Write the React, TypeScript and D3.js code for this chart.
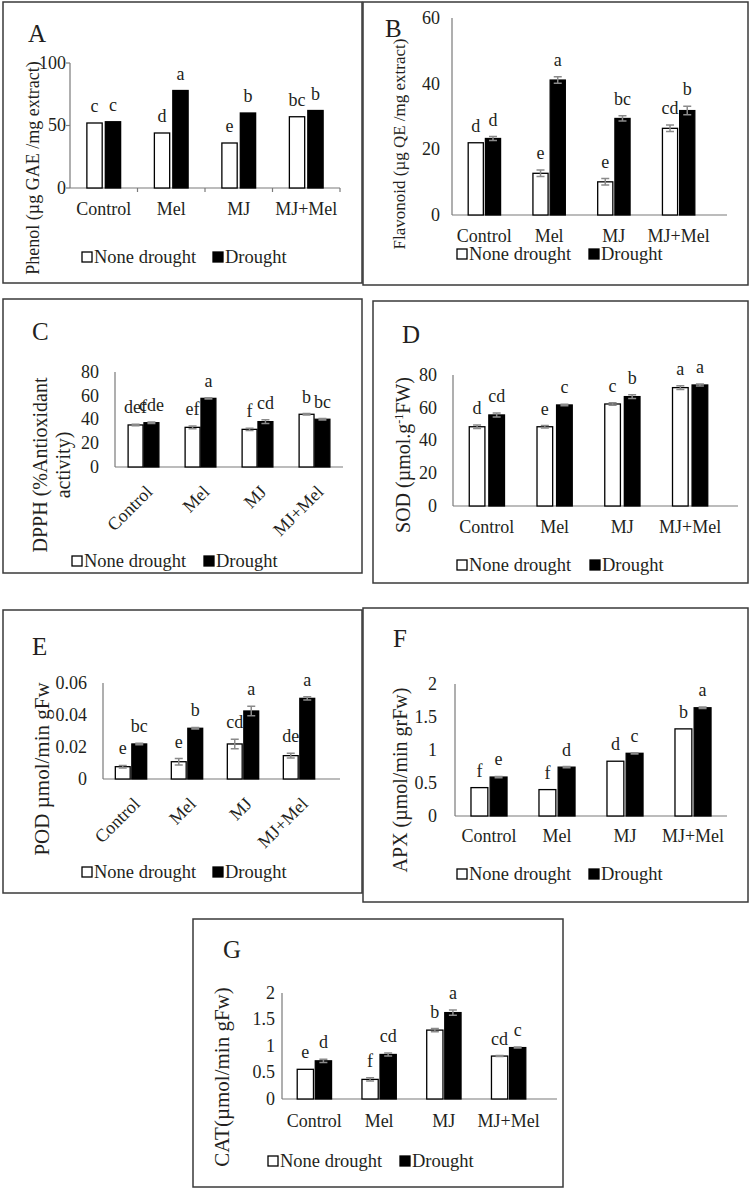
import React from 'react';
import * as d3 from 'd3';

const categories = ['Control', 'Mel', 'MJ', 'MJ+Mel'];

// A: total phenol
const phenolNone = [52, 44, 36, 57];
const phenolDrought = [53, 78, 60, 62];
const phenolLetNone = ['c', 'd', 'e', 'bc'];
const phenolLetDrought = ['c', 'a', 'b', 'b'];
const phenolTicks = [0, 50, 100];

// B: flavonoid
const flavNone = [22.0, 12.7, 10.1, 26.4];
const flavDrought = [23.3, 41.1, 29.4, 31.8];
const flavErrNone = [0, 1.0, 1.0, 1.0];
const flavErrDrought = [0.6, 1.0, 0.8, 1.3];
const flavLetNone = ['d', 'e', 'e', 'cd'];
const flavLetDrought = ['d', 'a', 'bc', 'b'];
const flavTicks = [0, 20, 40, 60];

// C: DPPH
const dpphNone = [35.4, 33.4, 31.7, 44.4];
const dpphDrought = [37.3, 57.8, 38.2, 40.2];
const dpphErrNone = [0.6, 1.2, 1.0, 0.6];
const dpphErrDrought = [0.6, 0.6, 1.5, 0.6];
const dpphLetNone = ['def', 'ef', 'f', 'b'];
const dpphLetDrought = ['cde', 'a', 'cd', 'bc'];
const dpphTicks = [0, 20, 40, 60, 80];

// D: SOD
const sodNone = [48.4, 48.4, 62.3, 72.3];
const sodDrought = [55.6, 61.7, 66.8, 73.9];
const sodErrNone = [1.0, 0.7, 0.8, 1.2];
const sodErrDrought = [1.2, 0.5, 1.2, 0.6];
const sodLetNone = ['d', 'e', 'c', 'a'];
const sodLetDrought = ['cd', 'c', 'b', 'a'];
const sodTicks = [0, 20, 40, 60, 80];

// E: POD
const podNone = [0.0077, 0.0108, 0.0219, 0.0146];
const podDrought = [0.0219, 0.0317, 0.0425, 0.0504];
const podErrNone = [0.0008, 0.002, 0.003, 0.0015];
const podErrDrought = [0.0005, 0.0005, 0.003, 0.001];
const podLetNone = ['e', 'e', 'cd', 'de'];
const podLetDrought = ['bc', 'b', 'a', 'a'];
const podTicks = [0, 0.02, 0.04, 0.06];

// F: APX
const apxNone = [0.43, 0.4, 0.83, 1.32];
const apxDrought = [0.59, 0.74, 0.95, 1.64];
const apxErrNone = [0, 0, 0, 0];
const apxErrDrought = [0.01, 0.01, 0.01, 0.01];
const apxLetNone = ['f', 'f', 'd', 'b'];
const apxLetDrought = ['e', 'd', 'c', 'a'];
const apxTicks = [0, 0.5, 1, 1.5, 2];

// G: CAT
const catNone = [0.56, 0.37, 1.3, 0.81];
const catDrought = [0.72, 0.84, 1.63, 0.97];
const catErrNone = [0, 0.03, 0.03, 0.01];
const catErrDrought = [0.03, 0.03, 0.05, 0.01];
const catLetNone = ['e', 'f', 'b', 'cd'];
const catLetDrought = ['d', 'cd', 'a', 'c'];
const catTicks = [0, 0.5, 1, 1.5, 2];

const FONT = '"Liberation Serif", "Times New Roman", serif';
const INK = '#231f20';
const AXIS = '#7a7a7a';
const ERR = '#8a8a8a';

type Seg = { t: string; sup?: boolean };
type LabelLine = { x: number; parts: Seg[] };

// legend: [white square x, black square x, baseline]
const panels = [
  {
    id: 'A', frame: [3, 2, 362, 283], tag: [28, 42],
    x0: 70, x1: 340, axisEnd: 340, yTop: 63, yBase: 188, yMax: 100, pad: 0.5, gap: 0.17,
    ticks: phenolTicks, tickRight: 66, tickMarks: true,
    none: phenolNone, drought: phenolDrought, errNone: null, errDrought: null,
    letNone: phenolLetNone, letDrought: phenolLetDrought,
    catY: 215, rotate: false,
    yLabel: [{ x: 33, parts: [{ t: 'Phenol (µg GAE /mg extract)' }] }] as LabelLine[],
    yLabelCy: 168, yLabelSize: 18,
    legend: [82, 213, 263],
  },
  {
    id: 'B', frame: [363, 2, 748, 285], tag: [385, 37],
    x0: 452, x1: 711, axisEnd: 727, yTop: 18, yBase: 215, yMax: 60, pad: 0.5, gap: 0.12,
    ticks: flavTicks, tickRight: 440, tickMarks: false,
    none: flavNone, drought: flavDrought, errNone: flavErrNone, errDrought: flavErrDrought,
    letNone: flavLetNone, letDrought: flavLetDrought,
    catY: 242, rotate: false,
    yLabel: [{ x: 399, parts: [{ t: 'Flavonoid (µg QE /mg extract)' }] }] as LabelLine[],
    yLabelCy: 144, yLabelSize: 17,
    legend: [457, 589, 260],
  },
  {
    id: 'C', frame: [3, 299, 362, 573], tag: [32, 340],
    x0: 115, x1: 343, axisEnd: 343, yTop: 372, yBase: 467, yMax: 80, pad: 0.46, gap: 0.06,
    ticks: dpphTicks, tickRight: 99, tickMarks: false,
    none: dpphNone, drought: dpphDrought, errNone: dpphErrNone, errDrought: dpphErrDrought,
    letNone: dpphLetNone, letDrought: dpphLetDrought,
    catY: 467, rotate: true,
    yLabel: [
      { x: 40, parts: [{ t: 'DPPH (%Antioxidant' }] },
      { x: 63, parts: [{ t: 'activity)' }] },
    ] as LabelLine[],
    yLabelCy: 465, yLabelSize: 20,
    legend: [72, 204, 567],
  },
  {
    id: 'D', frame: [373, 301, 748, 583], tag: [402, 343],
    x0: 453, x1: 724, axisEnd: 738, yTop: 375, yBase: 506, yMax: 80, pad: 0.48, gap: 0.2,
    ticks: sodTicks, tickRight: 437, tickMarks: false,
    none: sodNone, drought: sodDrought, errNone: sodErrNone, errDrought: sodErrDrought,
    letNone: sodLetNone, letDrought: sodLetDrought,
    catY: 533, rotate: false,
    yLabel: [{ x: 403, parts: [{ t: 'SOD (µmol.g' }, { t: '-1', sup: true }, { t: 'FW)' }] }] as LabelLine[],
    yLabelCy: 455, yLabelSize: 20,
    legend: [457, 590, 571],
  },
  {
    id: 'E', frame: [3, 610, 362, 893], tag: [32, 655],
    x0: 103, x1: 327, axisEnd: 340, yTop: 683, yBase: 779, yMax: 0.06, pad: 0.44, gap: 0.1,
    ticks: podTicks, tickRight: 87, tickMarks: false,
    none: podNone, drought: podDrought, errNone: podErrNone, errDrought: podErrDrought,
    letNone: podLetNone, letDrought: podLetDrought,
    catY: 779, rotate: true,
    yLabel: [{ x: 42, parts: [{ t: 'POD µmol/min gFw' }] }] as LabelLine[],
    yLabelCy: 769, yLabelSize: 21,
    legend: [82, 213, 878],
  },
  {
    id: 'F', frame: [363, 608, 748, 902], tag: [393, 647],
    x0: 455, x1: 727, axisEnd: 727, yTop: 684, yBase: 816, yMax: 2, pad: 0.47, gap: 0.12,
    ticks: apxTicks, tickRight: 437, tickMarks: false,
    none: apxNone, drought: apxDrought, errNone: apxErrNone, errDrought: apxErrDrought,
    letNone: apxLetNone, letDrought: apxLetDrought,
    catY: 842, rotate: false,
    yLabel: [{ x: 400, parts: [{ t: 'APX (µmol/min grFw)' }] }] as LabelLine[],
    yLabelCy: 780, yLabelSize: 20,
    legend: [457, 589, 880],
  },
  {
    id: 'G', frame: [193, 919, 563, 1187], tag: [223, 958],
    x0: 282, x1: 541, axisEnd: 557, yTop: 993, yBase: 1099, yMax: 2, pad: 0.47, gap: 0.1,
    ticks: catTicks, tickRight: 275, tickMarks: false,
    none: catNone, drought: catDrought, errNone: catErrNone, errDrought: catErrDrought,
    letNone: catLetNone, letDrought: catLetDrought,
    catY: 1127, rotate: false,
    yLabel: [{ x: 222, parts: [{ t: 'CAT(µmol/min gFw)' }] }] as LabelLine[],
    yLabelCy: 1077, yLabelSize: 21,
    legend: [268, 400, 1167],
  },
];

type PanelCfg = (typeof panels)[number];

function fmtTick(v: number) {
  return String(+v.toFixed(3));
}

function Panel({ p }: { p: PanelCfg }) {
  const x = d3.scaleBand<string>()
    .domain(categories)
    .range([p.x0, p.x1])
    .paddingInner(p.pad)
    .paddingOuter(p.pad / 2);
  const sub = d3.scaleBand<number>()
    .domain([0, 1])
    .range([0, x.bandwidth()])
    .paddingInner(p.gap);
  const y = d3.scaleLinear().domain([0, p.yMax]).range([p.yBase, p.yTop]);

  const series = [
    { vals: p.none, errs: p.errNone, lets: p.letNone, fill: '#ffffff' },
    { vals: p.drought, errs: p.errDrought, lets: p.letDrought, fill: '#000000' },
  ];

  const [fx0, fy0, fx1, fy1] = p.frame;
  const [sq1, sq2, ly] = p.legend;
  const halfGap = (x.step() - x.bandwidth()) / 2;

  return (
    <g>
      <rect x={fx0} y={fy0} width={fx1 - fx0} height={fy1 - fy0} fill="none" stroke="#3a3a3a" strokeWidth={1.5} />
      <text x={p.tag[0]} y={p.tag[1]} fontSize={25} fill={INK}>{p.id}</text>

      {/* value axis */}
      <line x1={p.x0} x2={p.x0} y1={y(0)} y2={y(p.yMax)} stroke={AXIS} strokeWidth={1.2} />
      {p.ticks.map(t => (
        <g key={t}>
          {p.tickMarks && <line x1={p.x0 - 4} x2={p.x0} y1={y(t)} y2={y(t)} stroke={AXIS} strokeWidth={1.2} />}
          <text x={p.tickRight} y={y(t)} dy="0.33em" textAnchor="end" fontSize={18} fill={INK}>{fmtTick(t)}</text>
        </g>
      ))}

      {/* category axis */}
      <line x1={p.x0} x2={p.axisEnd} y1={y(0)} y2={y(0)} stroke={AXIS} strokeWidth={1.2} />
      {p.tickMarks && categories.slice(1).map(c => (
        <line key={c} x1={(x(c) ?? 0) - halfGap} x2={(x(c) ?? 0) - halfGap} y1={y(0)} y2={y(0) + 4}
          stroke={AXIS} strokeWidth={1.2} />
      ))}
      {p.tickMarks && <line x1={p.x1} x2={p.x1} y1={y(0)} y2={y(0) + 4} stroke={AXIS} strokeWidth={1.2} />}

      {/* bars, error bars, letters */}
      {series.map((s, si) => categories.map((c, ci) => {
        const bx = (x(c) ?? 0) + (sub(si) ?? 0);
        const bw = sub.bandwidth();
        const v = s.vals[ci];
        const e = s.errs ? s.errs[ci] : 0;
        const cx = bx + bw / 2;
        return (
          <g key={`${si}-${c}`}>
            <rect x={bx} y={y(v)} width={bw} height={y(0) - y(v)} fill={s.fill} stroke="#000" strokeWidth={1.3} />
            {e > 0 && (
              <path
                d={`M${cx - 4},${y(v + e)}H${cx + 4}M${cx},${y(v + e)}V${y(v - e)}M${cx - 4},${y(v - e)}H${cx + 4}`}
                stroke={ERR} strokeWidth={1.5} fill="none"
              />
            )}
            <text x={cx} y={y(v + e) - 11} textAnchor="middle" fontSize={18} fill={INK}>{s.lets[ci]}</text>
          </g>
        );
      }))}

      {/* category labels */}
      {categories.map(c => {
        const cx = (x(c) ?? 0) + x.bandwidth() / 2;
        return p.rotate ? (
          <text key={c} transform={`translate(${cx + 10},${y(0) + 26}) rotate(-45)`} textAnchor="end" fontSize={18} fill={INK}>{c}</text>
        ) : (
          <text key={c} x={cx} y={p.catY} textAnchor="middle" fontSize={18} fill={INK}>{c}</text>
        );
      })}

      {/* axis title */}
      {p.yLabel.map((line, i) => (
        <text key={i} transform={`translate(${line.x},${p.yLabelCy}) rotate(-90)`} dy="0.33em"
          textAnchor="middle" fontSize={p.yLabelSize} fill={INK}>
          {line.parts.map((seg, k) => seg.sup
            ? <tspan key={k} dy={-7} fontSize={12}>{seg.t}</tspan>
            : <tspan key={k} dy={k > 0 && line.parts[k - 1].sup ? 7 : undefined}>{seg.t}</tspan>)}
        </text>
      ))}

      {/* legend */}
      <rect x={sq1} y={ly - 11} width={10} height={10} fill="#fff" stroke="#000" strokeWidth={1.3} />
      <text x={sq1 + 12} y={ly} fontSize={18.5} fill={INK}>None drought</text>
      <rect x={sq2} y={ly - 11} width={10} height={10} fill="#000" stroke="#000" strokeWidth={1.3} />
      <text x={sq2 + 12} y={ly} fontSize={18.5} fill={INK}>Drought</text>
    </g>
  );
}

export default function App() {
  return (
    <svg width={750} height={1189} style={{ position: 'absolute', left: 0, top: 0, background: '#fff' }}
      fontFamily={FONT}>
      <rect width={750} height={1189} fill="#fff" />
      {panels.map(p => <Panel key={p.id} p={p} />)}
    </svg>
  );
}
